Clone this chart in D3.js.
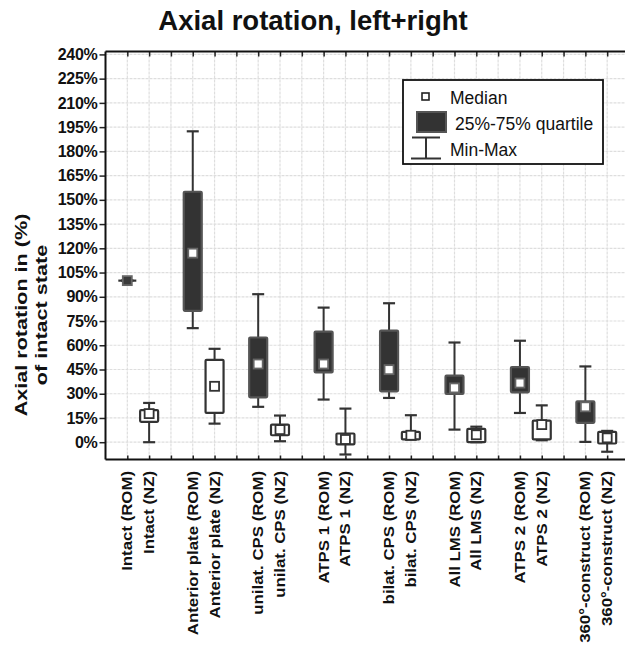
<!DOCTYPE html>
<html>
<head>
<meta charset="utf-8">
<script src="https://cdn.jsdelivr.net/npm/d3@7"></script>
<style>
  html, body { margin: 0; padding: 0; background: #fff; }
  svg { display: block; font-family: "Liberation Sans", Arial, sans-serif; }
</style>
</head>
<body>
<svg id="chart" width="625" height="648"></svg>
<script>
// ---- data (percent of intact state) ----
const categories = [
  "Intact (ROM)", "Intact (NZ)",
  "Anterior plate (ROM)", "Anterior plate (NZ)",
  "unilat. CPS (ROM)", "unilat. CPS (NZ)",
  "ATPS 1 (ROM)", "ATPS 1 (NZ)",
  "bilat. CPS (ROM)", "bilat. CPS (NZ)",
  "All LMS (ROM)", "All LMS (NZ)",
  "ATPS 2 (ROM)", "ATPS 2 (NZ)",
  "360°-construct (ROM)", "360°-construct (NZ)"
];
const minValues    = [100,  0,  70.6, 11.5, 21.9, 0.6, 26.4, -7.6, 27.4, 1.7,  7.8, 0.0, 18.1, 1.2,  0.2, -5.9];
const q1Values     = [100, 12.6, 81.3, 18.1, 27.8, 4.3, 43.2, -1.4, 31.5, 1.7, 29.9, 0.0, 30.9, 1.7, 12.0, -0.8];
const medianValues = [100, 17.7, 117, 34.6, 48.4, 7.8, 48.4,  1.7, 44.9, 4.3, 33.6, 4.6, 36.6, 10.9, 21.9, 2.7];
const q3Values     = [100, 19.8, 155, 51.0, 64.8, 10.9, 68.5, 5.4, 69.1, 6.4, 41.2, 8.3, 46.5, 13.4, 25.3, 6.4];
const maxValues    = [100, 24.3, 192.4, 57.8, 91.6, 16.5, 83.3, 20.8, 86.0, 16.7, 61.7, 9.6, 62.8, 22.8, 46.9, 7.0];
const yTickValues  = [0, 15, 30, 45, 60, 75, 90, 105, 120, 135, 150, 165, 180, 195, 210, 225, 240];
const titleText = "Axial rotation, left+right";
const yTitleLines = ["Axial rotation in (%)", "of intact state"];
const legendLabels = ["Median", "25%-75% quartile", "Min-Max"];

// slot index: pairs separated by an empty slot
const slots = categories.map((c, i) => Math.floor(i / 2) * 3 + (i % 2));
const data = categories.map((c, i) => ({
  name: c, slot: slots[i], rom: c.indexOf("(ROM)") >= 0,
  min: minValues[i], q1: q1Values[i], med: medianValues[i], q3: q3Values[i], max: maxValues[i]
}));

const svg = d3.select("#chart");
const pLeft = 105.5, pRight = 629, pTop = 51.5, pBottom = 459.5;

const x = d3.scaleLinear().domain([-1, 23]).range([pLeft, pRight]);
const y = d3.scaleLinear().domain([-10.7, 241.8]).range([pBottom, pTop]);

// grid
const gridSlots = d3.range(0, 23);
const grid = svg.append("g");
grid.selectAll("line.gv").data(gridSlots).join("line")
  .attr("x1", d => x(d)).attr("x2", d => x(d))
  .attr("y1", pTop).attr("y2", pBottom)
  .attr("stroke", "#dedede").attr("stroke-width", 1.2).attr("stroke-dasharray", "3,1");
grid.selectAll("line.gh").data(yTickValues).join("line")
  .attr("x1", pLeft).attr("x2", pRight)
  .attr("y1", d => y(d)).attr("y2", d => y(d))
  .attr("stroke", "#dedede").attr("stroke-width", 1.2).attr("stroke-dasharray", "3,1");

// axes
const yAxis = d3.axisLeft(y).tickValues(yTickValues).tickFormat(d => d + "%").tickSize(6).tickPadding(2);
const gy = svg.append("g").attr("transform", `translate(${pLeft},0)`).call(yAxis);
gy.select(".domain").remove();
gy.selectAll(".tick line").attr("stroke", "#222").attr("stroke-width", 1.5);
gy.selectAll(".tick text").attr("font-size", 16).attr("fill", "#111")
  .attr("font-family", "Liberation Sans, Arial, sans-serif").style("font-weight", "bold").attr("letter-spacing", "-0.3");

const xTop = d3.axisBottom(x).tickValues(gridSlots).tickSize(5).tickFormat("");
const gt = svg.append("g").attr("transform", `translate(0,${pTop})`).call(xTop);
gt.select(".domain").remove();
gt.selectAll(".tick line").attr("stroke", "#222").attr("stroke-width", 1.5);

const xBot = d3.axisTop(x).tickValues(gridSlots).tickSize(4).tickFormat("");
const gb = svg.append("g").attr("transform", `translate(0,${pBottom})`).call(xBot);
gb.select(".domain").remove();
gb.selectAll(".tick line").attr("stroke", "#222").attr("stroke-width", 1.5);

// frame lines
svg.append("line").attr("x1", pLeft).attr("x2", pRight).attr("y1", pTop).attr("y2", pTop).attr("stroke", "#111").attr("stroke-width", 2);
svg.append("line").attr("x1", pLeft).attr("x2", pRight).attr("y1", pBottom).attr("y2", pBottom).attr("stroke", "#111").attr("stroke-width", 2.2);
svg.append("line").attr("x1", pLeft).attr("x2", pLeft).attr("y1", pTop).attr("y2", pBottom).attr("stroke", "#111").attr("stroke-width", 2);

// boxes
const boxW = 18, capW = 12, markS = 9;
const bx = svg.append("g").selectAll("g").data(data).join("g");
bx.append("line")
  .attr("x1", d => x(d.slot)).attr("x2", d => x(d.slot))
  .attr("y1", d => y(d.min)).attr("y2", d => y(d.max))
  .attr("stroke", "#333").attr("stroke-width", 2);
bx.append("line")
  .attr("x1", d => x(d.slot) - capW / 2).attr("x2", d => x(d.slot) + capW / 2)
  .attr("y1", d => y(d.max)).attr("y2", d => y(d.max))
  .attr("stroke", "#333").attr("stroke-width", 2.2);
bx.append("line")
  .attr("x1", d => x(d.slot) - capW / 2).attr("x2", d => x(d.slot) + capW / 2)
  .attr("y1", d => y(d.min)).attr("y2", d => y(d.min))
  .attr("stroke", "#333").attr("stroke-width", 2.2);
bx.filter(d => d.q3 > d.q1).append("rect")
  .attr("x", d => x(d.slot) - boxW / 2).attr("width", boxW)
  .attr("y", d => y(d.q3)).attr("height", d => y(d.q1) - y(d.q3))
  .attr("rx", 1)
  .attr("fill", d => d.rom ? "#333" : "#fff")
  .attr("stroke", d => d.rom ? "#555" : "#333")
  .attr("stroke-width", 2.2);
bx.filter(d => !(d.q3 > d.q1)).append("line")
  .attr("x1", d => x(d.slot) - boxW / 2).attr("x2", d => x(d.slot) + boxW / 2)
  .attr("y1", d => y(d.q1)).attr("y2", d => y(d.q1))
  .attr("stroke", "#333").attr("stroke-width", 2.2);
bx.append("rect")
  .attr("x", d => x(d.slot) - markS / 2).attr("width", markS)
  .attr("y", d => y(d.med) - markS / 2).attr("height", markS)
  .attr("fill", d => (d.q3 > d.q1) ? "#fff" : "#3a3a3a")
  .attr("stroke", d => d.rom ? "#666" : "#333")
  .attr("stroke-width", 1.8);

// x labels (glyphs elongated along the text direction, as in the original)
svg.append("g").selectAll("text").data(data).join("text")
  .attr("transform", d => `translate(${x(d.slot) + 5},471) rotate(-90) scale(1.2,1)`)
  .attr("text-anchor", "end")
  .attr("font-size", 14).attr("font-weight", "bold").attr("fill", "#111")
  .text(d => d.name);

// title
svg.append("text").attr("x", 313).attr("y", 30).attr("text-anchor", "middle")
  .attr("font-size", 27.5).attr("font-weight", "bold").attr("fill", "#111").text(titleText);

// y title
svg.append("g").selectAll("text").data(yTitleLines).join("text")
  .attr("transform", (d, i) => `translate(${27 + i * 20},315) rotate(-90) scale(1.27,1)`)
  .attr("text-anchor", "middle")
  .attr("font-size", 17).attr("font-weight", "bold").attr("fill", "#111")
  .text(d => d);

// legend
const lg = svg.append("g");
lg.append("rect").attr("x", 403).attr("y", 80).attr("width", 200).attr("height", 84)
  .attr("fill", "#fff").attr("stroke", "#111").attr("stroke-width", 1.8);
lg.append("rect").attr("x", 422).attr("y", 93).attr("width", 7).attr("height", 7)
  .attr("fill", "#fff").attr("stroke", "#222").attr("stroke-width", 1.6);
lg.append("rect").attr("x", 417).attr("y", 112).attr("width", 29).attr("height", 20)
  .attr("fill", "#333").attr("stroke", "#555").attr("stroke-width", 2);
lg.append("line").attr("x1", 412).attr("x2", 440).attr("y1", 137.5).attr("y2", 137.5).attr("stroke", "#333").attr("stroke-width", 2);
lg.append("line").attr("x1", 426).attr("x2", 426).attr("y1", 137.5).attr("y2", 158.5).attr("stroke", "#333").attr("stroke-width", 2);
lg.append("line").attr("x1", 411).attr("x2", 441).attr("y1", 158.5).attr("y2", 158.5).attr("stroke", "#333").attr("stroke-width", 2);
lg.selectAll("text").data(legendLabels).join("text")
  .attr("x", (d, i) => i === 1 ? 455 : 450)
  .attr("y", (d, i) => [104, 130, 156][i])
  .attr("font-size", 17.5).attr("fill", "#111")
  .text(d => d);
</script>
</body>
</html>
